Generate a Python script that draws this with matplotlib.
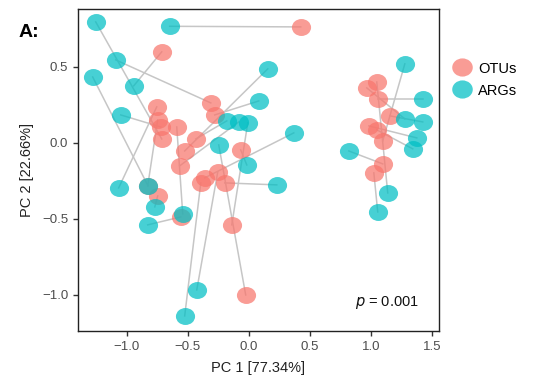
import matplotlib
matplotlib.use("Agg")
import matplotlib.pyplot as plt
from matplotlib.lines import Line2D
from matplotlib.path import Path
from matplotlib.transforms import Affine2D

plt.rcParams['font.family'] = ['Liberation Sans', 'DejaVu Sans']

# ARG coordinates (Procrustes-rotated) and their matched OTU coordinates
arg_x = [-1.254, -0.648, -1.090, -1.279, -0.943, -1.049, 0.156, 0.082, -0.180, -0.082,
         -0.008, 0.369, -0.246, -0.016, 0.230, -1.066, -0.828, -0.770, -0.828, -0.541,
         -0.426, -0.525, 1.279, 1.426, 1.279, 1.426, 1.377, 1.344, 0.820, 1.139, 1.057]
arg_y = [0.794, 0.765, 0.544, 0.432, 0.373, 0.182, 0.485, 0.274, 0.143, 0.136,
         0.130, 0.064, -0.015, -0.147, -0.278, -0.298, -0.285, -0.423, -0.541, -0.469,
         -0.969, -1.140, 0.518, 0.288, 0.156, 0.136, 0.031, -0.041, -0.055, -0.331, -0.456]
otu_x = [-0.713, 0.426, -0.311, -0.826, -0.713, -0.721, -0.525, -0.279, -0.434, -0.566,
         -0.139, -0.361, -0.025, -0.066, -0.197, -0.754, -0.746, -0.746, -0.557, -0.590,
         -0.254, -0.393, 1.098, 1.057, 0.967, 1.156, 0.984, 1.049, 1.098, 1.049, 1.025]
otu_y = [0.024, 0.761, 0.261, -0.283, 0.597, 0.103, -0.055, 0.182, 0.024, -0.153,
         -0.541, -0.232, -1.002, -0.048, -0.265, 0.235, 0.149, -0.351, -0.489, 0.103,
         -0.193, -0.265, 0.011, 0.288, 0.360, 0.176, 0.110, 0.084, -0.140, 0.399, -0.199]

x_ticks = [-1.0, -0.5, 0.0, 0.5, 1.0, 1.5]
y_ticks = [-1.0, -0.5, 0.0, 0.5]
series_labels = ["OTUs", "ARGs"]
x_label = "PC 1 [77.34%]"
y_label = "PC 2 [22.66%]"

otu_color = "#F8766D"
arg_color = "#00BFC4"
alpha = 0.72
ms = 13.8

# slightly wide ellipse marker (the reference image is horizontally stretched)
circ = Path.unit_circle()
ell = Affine2D().scale(1.13, 1.0).transform_path(circ)

fig = plt.figure(figsize=(5.41, 3.80), dpi=100)
ax = fig.add_axes([0.144, 0.129, 0.667, 0.847])

for ax_, ay_, ox_, oy_ in zip(arg_x, arg_y, otu_x, otu_y):
    ax.plot([ax_, ox_], [ay_, oy_], color="#C6C6C6", lw=1.1, zorder=1)

ax.plot(otu_x, otu_y, ls='none', marker=ell, ms=ms, color=otu_color, alpha=alpha, mec='none', zorder=2)
ax.plot(arg_x, arg_y, ls='none', marker=ell, ms=ms, color=arg_color, alpha=alpha, mec='none', zorder=3)

ax.set_xlim(-1.40, 1.557)
ax.set_ylim(-1.239, 0.878)
ax.set_xticks(x_ticks)
ax.set_yticks(y_ticks)
ax.set_xticklabels([f"{v:.1f}".replace("-", "\u2212") for v in x_ticks])
ax.set_yticklabels([f"{v:.1f}".replace("-", "\u2212") for v in y_ticks])
ax.tick_params(direction='out', length=3.5, width=1, color="#333333",
               labelcolor="#4D4D4D", labelsize=9.5)
for s in ax.spines.values():
    s.set_color("#222222")
    s.set_linewidth(1.0)

ax.set_xlabel(x_label, fontsize=10.5, color="#222222", labelpad=6)
ax.set_ylabel(y_label, fontsize=10.5, color="#222222", labelpad=6)

ax.text(0.945, 0.09, "$p$ = 0.001", transform=ax.transAxes, ha='right', va='center',
        fontsize=10.5, color="#111111")
fig.text(0.035, 0.915, "A:", fontsize=14, fontweight='bold', ha='left', va='center')

handles = [Line2D([], [], marker=ell, ls='none', ms=ms + 1, color=otu_color, alpha=alpha, mec='none'),
           Line2D([], [], marker=ell, ls='none', ms=ms + 1, color=arg_color, alpha=alpha, mec='none')]
fig.legend(handles, series_labels, loc='upper left', bbox_to_anchor=(0.838, 0.838),
           frameon=False, fontsize=10.5, handletextpad=0.5, labelspacing=0.55,
           borderaxespad=0, borderpad=0, handlelength=1.2)

fig.savefig("out.png", dpi=100)
